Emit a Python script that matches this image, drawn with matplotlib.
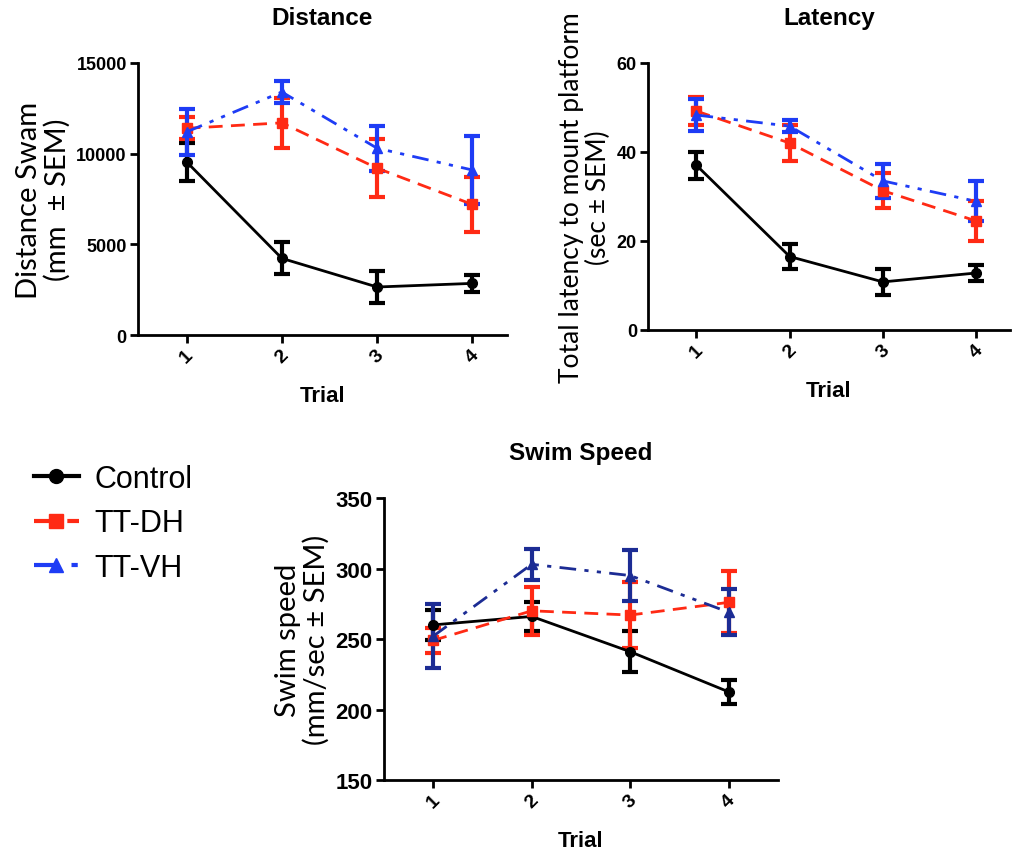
import matplotlib
matplotlib.use("Agg")
from matplotlib import pyplot as plt
from matplotlib.lines import Line2D

# Data (mean and SEM per trial)
trials = [1, 2, 3, 4]
groups = ["Control", "TT-DH", "TT-VH"]

distance_mean = {
    "Control": [9550, 4230, 2650, 2850],
    "TT-DH": [11400, 11700, 9200, 7200],
    "TT-VH": [11200, 13400, 10300, 9100],
}
distance_sem = {
    "Control": [1050, 880, 870, 450],
    "TT-DH": [600, 1370, 1600, 1500],
    "TT-VH": [1250, 580, 1250, 1850],
}

latency_mean = {
    "Control": [37.0, 16.5, 10.8, 12.8],
    "TT-DH": [49.2, 42.0, 31.3, 24.5],
    "TT-VH": [48.3, 45.8, 33.5, 28.9],
}
latency_sem = {
    "Control": [3.1, 2.8, 2.9, 1.9],
    "TT-DH": [3.2, 4.0, 4.0, 4.4],
    "TT-VH": [3.6, 1.4, 3.8, 4.5],
}

speed_mean = {
    "Control": [260, 266, 241, 212.5],
    "TT-DH": [249, 270, 267, 276],
    "TT-VH": [252, 303, 295, 269],
}
speed_sem = {
    "Control": [10.7, 10, 14.5, 8.3],
    "TT-DH": [9, 17, 23.5, 22],
    "TT-VH": [22.7, 11, 18, 16.5],
}

farby = {"Control": "black", "TT-DH": "#ff2a14", "TT-VH": "#1e3cf5"}
styly = {"Control": "-", "TT-DH": (0, (5, 3)), "TT-VH": (0, (6, 3, 1.5, 3, 1.5, 3))}
markery = {"Control": "o", "TT-DH": "s", "TT-VH": "^"}

plt.rcParams['font.family'] = ['Liberation Sans', 'DejaVu Sans']


# Pomocna funkcia vykresli jeden panel
def vykresli_panel(ax, means, sems, title, ylabel, ylim, yticks, xlim, tick_size, label_size, blue=None):
    for g in groups:
        c = farby[g]
        if g == "TT-VH" and blue is not None:
            c = blue
        ax.errorbar(trials, means[g], yerr=sems[g], color=c, linestyle=styly[g], marker=markery[g],
                    markersize=7, linewidth=2, elinewidth=3, capsize=6, capthick=3, zorder=3)
    ax.set_xlim(*xlim)
    ax.set_ylim(*ylim)
    ax.set_yticks(yticks)
    ax.set_xticks(trials)
    ax.set_xticklabels([str(t) for t in trials], rotation=45, fontsize=14, fontweight='bold')
    for lab in ax.get_yticklabels():
        lab.set_fontsize(tick_size)
        lab.set_fontweight('bold')
    ax.spines['top'].set_visible(False)
    ax.spines['right'].set_visible(False)
    ax.spines['left'].set_linewidth(2)
    ax.spines['bottom'].set_linewidth(2)
    ax.tick_params(width=2, length=6, pad=2)
    ax.set_title(title, fontsize=17.5, fontweight='bold', pad=28)
    ax.set_xlabel("Trial", fontsize=16, fontweight='bold', labelpad=14)
    ax.set_ylabel(ylabel, fontsize=label_size, family=['Lato', 'DejaVu Sans'], linespacing=1.1)


fig = plt.figure(figsize=(10.13, 8.53), dpi=100)

ax1 = fig.add_axes([0.1362, 0.606, 0.364, 0.319])
vykresli_panel(ax1, distance_mean, distance_sem, "Distance", "Distance Swam\n(mm  \u00b1 SEM)",
               (0, 15000), [0, 5000, 10000, 15000], (0.49, 4.36), 13, 21)

ax2 = fig.add_axes([0.6397, 0.612, 0.357, 0.313])
vykresli_panel(ax2, latency_mean, latency_sem, "Latency", "Total latency to mount platform\n(sec \u00b1 SEM)",
               (0, 60), [0, 20, 40, 60], (0.48, 4.36), 13, 19)

ax3 = fig.add_axes([0.379, 0.0844, 0.389, 0.3306])
vykresli_panel(ax3, speed_mean, speed_sem, "Swim Speed", "Swim speed\n(mm/sec \u00b1 SEM)",
               (150, 350), [150, 200, 250, 300, 350], (0.5, 4.5), 16, 21, blue="#1c2c94")

# Legenda
handles = [Line2D([0], [0], color=farby[g], linestyle=styly[g], marker=markery[g], markersize=10, linewidth=3)
           for g in groups]
fig.legend(handles, groups, loc='upper left', bbox_to_anchor=(0.006, 0.487), frameon=False, fontsize=22,
           handlelength=1.5, labelspacing=0.47, handletextpad=0.5)

fig.savefig("out.png", dpi=100)
